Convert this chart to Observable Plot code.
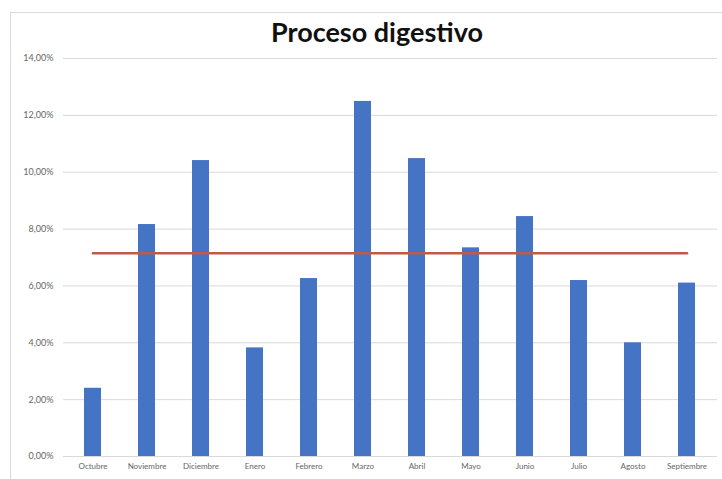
<!DOCTYPE html>
<html>
<head>
<meta charset="utf-8">
<script src="https://cdn.jsdelivr.net/npm/d3@7"></script>
<script src="https://cdn.jsdelivr.net/npm/@observablehq/plot@0.6"></script>
<style>
  html, body { margin: 0; padding: 0; background: #fff; }
  #wrap { position: relative; width: 722px; height: 479px; overflow: hidden; }
  #frame { position: absolute; left: 10px; top: 12px; right: -2px; bottom: -2px;
           border-top: 1px solid #d9d9d9; border-left: 1px solid #d9d9d9; }
  #title { position: relative; height: 46px; width: 722px; text-align: center;
           font: 700 27px Lato, sans-serif; color: #111;
           padding-left: 32px; box-sizing: border-box; padding-top: 18px; line-height: 27px; }
  #chart svg { display: block; }
</style>
</head>
<body>
<div id="wrap">
  <div id="frame"></div>
  <div id="title">Proceso digestivo</div>
  <div id="chart"></div>
</div>
<script>
// Meses del ciclo (octubre a septiembre)
const meses = ["Octubre", "Noviembre", "Diciembre", "Enero", "Febrero", "Marzo",
               "Abril", "Mayo", "Junio", "Julio", "Agosto", "Septiembre"];
// Porcentaje mensual del proceso digestivo
const porcentajes = [2.40, 8.16, 10.41, 3.82, 6.26, 12.49, 10.48, 7.34, 8.44, 6.19, 4.00, 6.10];
// Promedio anual (línea de referencia)
const promedio = 7.15;
// Marcas del eje vertical
const ticksY = [0, 2, 4, 6, 8, 10, 12, 14];

const datos = meses.map((mes, i) => ({mes, valor: porcentajes[i], media: promedio}));

const fmt = d => d.toFixed(2).replace(".", ",") + "%";

const chart = Plot.plot({
  width: 722,
  height: 433,
  marginTop: 12,
  marginBottom: 23,
  marginLeft: 63,
  marginRight: 5,
  style: {fontFamily: "Lato, sans-serif", fontSize: "8px", color: "#666", background: "transparent"},
  x: {domain: meses, paddingInner: 0.68, paddingOuter: 0.34, label: null},
  y: {domain: [0, 14], label: null},
  marks: [
    Plot.gridY(ticksY, {stroke: "#d9d9d9", strokeOpacity: 1, strokeWidth: 1}),
    Plot.axisY(ticksY, {tickSize: 0, tickPadding: 10, tickFormat: fmt, fontSize: 9, fill: "#666", label: null}),
    Plot.axisX({tickSize: 0, tickPadding: 7, fontSize: 8, fill: "#666", label: null}),
    Plot.barY(datos, {x: "mes", y: "valor", fill: "#4674c4"}),
    Plot.lineY(datos, {x: "mes", y: "media", stroke: "#be5a48", strokeWidth: 2.5})
  ]
});
document.getElementById("chart").appendChild(chart);
</script>
</body>
</html>
